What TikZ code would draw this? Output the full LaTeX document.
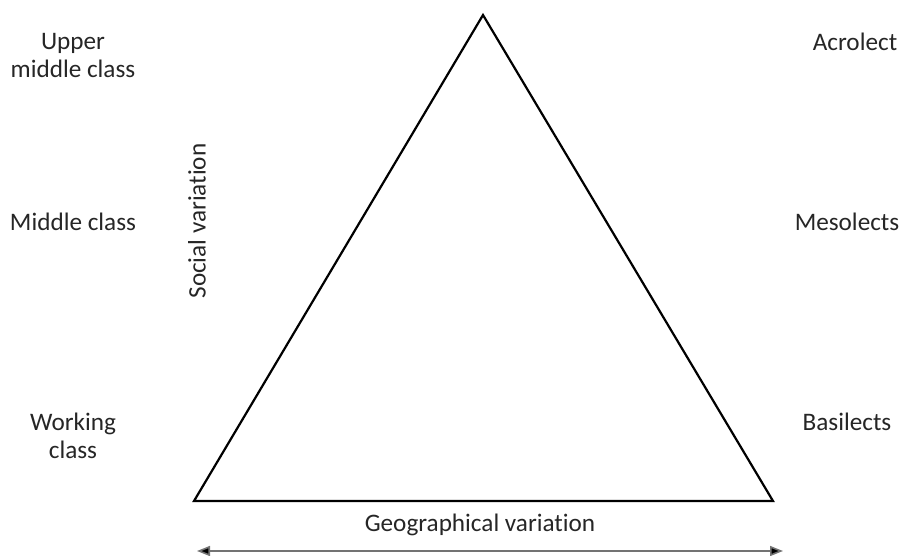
\documentclass[tikz,border=0pt]{standalone}
\usepackage{fontspec}
\setmainfont[Ligatures=NoCommon]{Carlito}
\usetikzlibrary{arrows.meta}
\begin{document}
\begin{tikzpicture}[x=1pt,y=-1pt,
  lbl/.style={font=\fontsize{25.2}{28}\selectfont, align=center, text=black!85, inner sep=0pt},
  tri/.style={draw=black, line width=2.2pt, line join=miter},
  geo/.style={draw=black!55, line width=1.6pt, {Triangle[length=13pt,width=10pt,fill=black]}-{Triangle[length=13pt,width=10pt,fill=black]}}]
\useasboundingbox (0,0) rectangle (910,555);
\coordinate (apex) at (483,15);
\coordinate (bl) at (194,501);
\coordinate (br) at (773,501);
\draw[tri] (apex) -- (bl) -- (br) -- cycle;
\coordinate (gl) at (197,551);
\coordinate (gr) at (783,551);
\draw[geo] (gl) -- (gr);
\node[lbl] (geotxt) at (480,525) {Geographical variation};
\node[lbl, rotate=90] (soc) at (197,221) {Social variation};
\node[lbl] (umc) at (73,56) {Upper\\middle class};
\node[lbl] (mc) at (73,222) {Middle class};
\node[lbl] (wc) at (73,436) {Working\\class};
\node[lbl] (acro) at (855,42) {Acrolect};
\node[lbl] (meso) at (847,222) {Mesolects};
\node[lbl] (basi) at (847,422) {Basilects};
\end{tikzpicture}
\end{document}
